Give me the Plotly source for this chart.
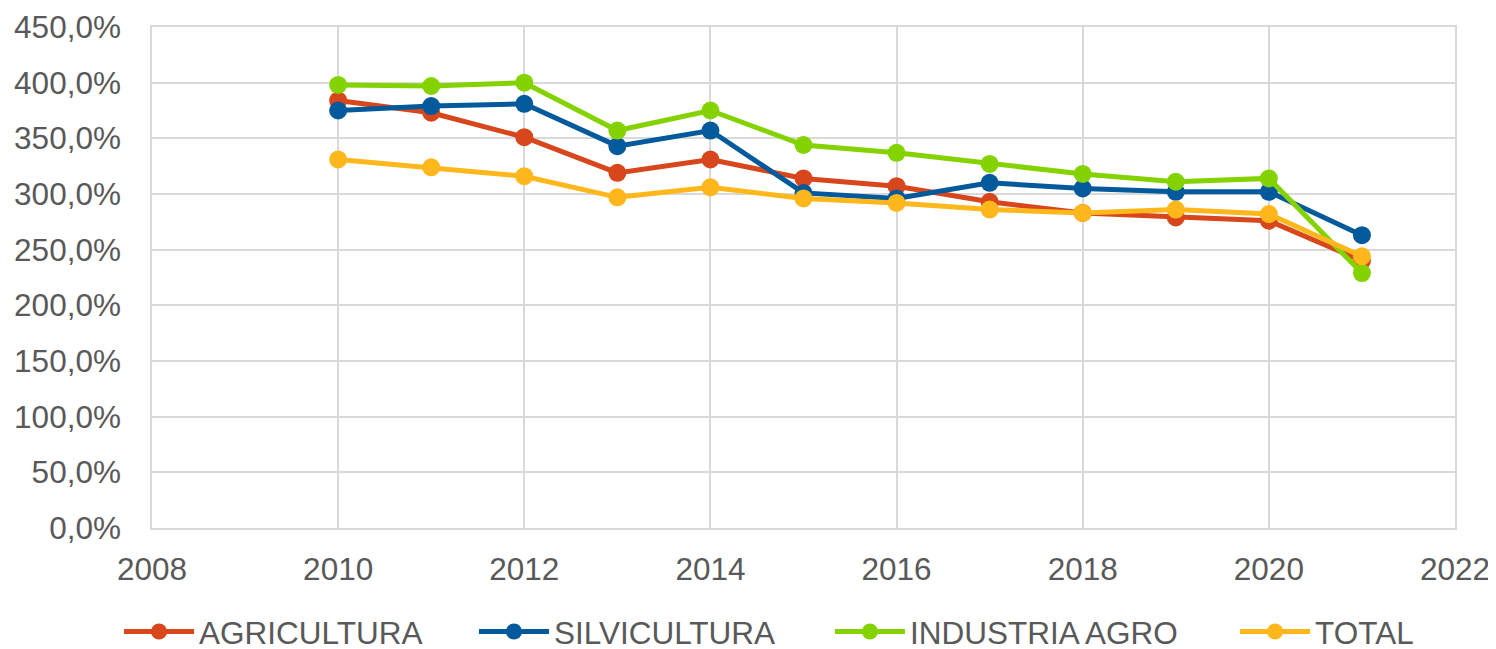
import plotly.graph_objects as go

years = [2010, 2011, 2012, 2013, 2014, 2015, 2016, 2017, 2018, 2019, 2020, 2021]
agricultura = [384, 373, 351, 319, 331, 314, 307, 293, 283, 279, 276, 240]
silvicultura = [375, 379, 381, 343, 357, 301, 296, 310, 305, 302, 302, 263]
industria = [398, 397, 400, 357, 375, 344, 337, 327, 318, 311, 314, 229]
total = [331, 324, 316, 297, 306, 296, 292, 286, 283, 286, 282, 244]

names = ["AGRICULTURA", "SILVICULTURA", "INDUSTRIA AGRO", "TOTAL"]
values = [agricultura, silvicultura, industria, total]
colors = ["#D8461B", "#02599C", "#84D300", "#FFB71B"]
legend_x = [-0.0253, 0.2471, 0.5203, 0.8312]

font_family = "Liberation Sans, Arial, sans-serif"
text_color = "#595959"
grid_color = "#D9D9D9"
fs = 31.5

fig = go.Figure()
legend_ids = ["legend", "legend2", "legend3", "legend4"]
for name, vals, color, lid in zip(names, values, colors, legend_ids):
    fig.add_trace(go.Scatter(
        x=years, y=vals, name=name, mode="lines+markers",
        line=dict(color=color, width=5),
        marker=dict(color=color, size=18),
        legend=lid,
    ))

legend_common = dict(
    orientation="h", xanchor="left", y=-0.2066, yanchor="middle",
    font=dict(size=fs, color=text_color), itemwidth=70,
    bgcolor="rgba(0,0,0,0)",
)

layout_legends = {}
for lid, lx in zip(legend_ids, legend_x):
    layout_legends[lid] = dict(legend_common, x=lx)

fig.update_layout(
    width=1496, height=649,
    margin=dict(l=144, r=49, t=19, b=129, autoexpand=False),
    paper_bgcolor="white", plot_bgcolor="white",
    separators=",.",
    font=dict(family=font_family, size=fs, color=text_color),
    showlegend=True,
    xaxis=dict(
        range=[2008, 2022], dtick=2, tick0=2008,
        showgrid=True, gridcolor=grid_color, gridwidth=1.5,
        showline=True, linecolor=grid_color, linewidth=1.5, mirror=True,
        zeroline=False, ticks="", ticklabelstandoff=12, automargin=False,
        tickfont=dict(size=fs, color=text_color),
    ),
    yaxis=dict(
        range=[0, 450], dtick=50, tick0=0,
        tickformat=".1f", ticksuffix="%",
        showgrid=True, gridcolor=grid_color, gridwidth=1.5,
        showline=True, linecolor=grid_color, linewidth=1.5, mirror=True,
        zeroline=False, ticks="", ticklabelstandoff=23, automargin=False,
        tickfont=dict(size=fs, color=text_color),
    ),
    **layout_legends,
)

fig.write_html("out.html")
